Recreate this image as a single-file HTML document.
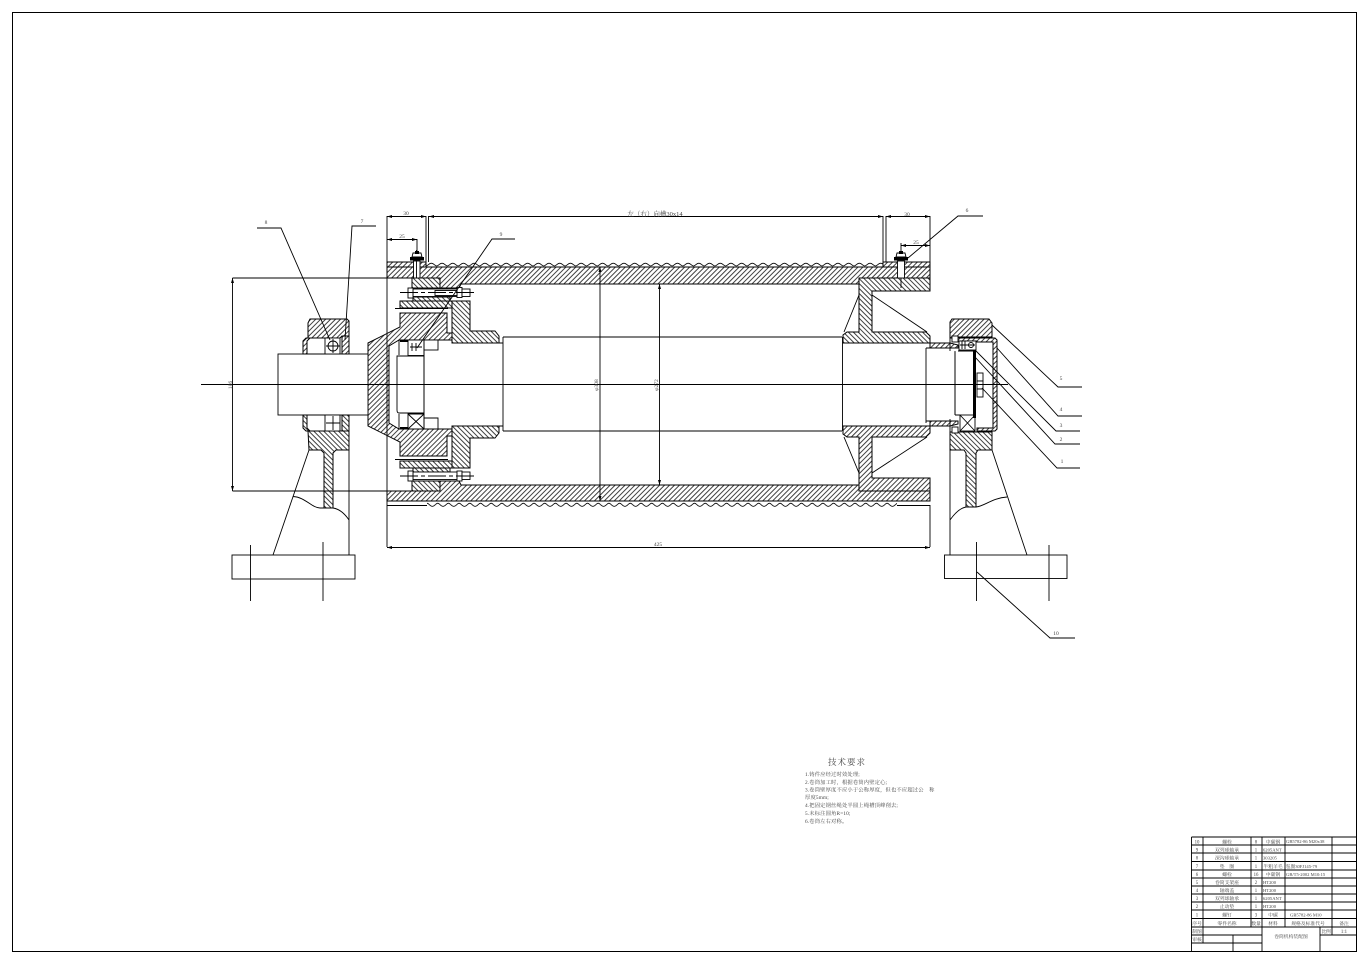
<!DOCTYPE html>
<html><head><meta charset="utf-8"><style>
html,body{margin:0;padding:0;background:#fff}
svg{display:block}
text{font-family:"Liberation Serif","Noto Serif CJK SC",serif;fill:#444}
.h{stroke:#000;stroke-width:1}
.l{fill:none;stroke:#000;stroke-width:.9}
.w{fill:#fff;stroke:#000;stroke-width:.9}
.b{fill:#000;stroke:none}
</style></head><body>
<svg width="1364" height="962" viewBox="0 0 1364 962" xmlns="http://www.w3.org/2000/svg">
<defs>
<pattern id="A" patternUnits="userSpaceOnUse" width="3.5" height="8" patternTransform="rotate(45)"><rect width="3.5" height="8" fill="#fff"/><line x1="1" y1="0" x2="1" y2="8" stroke="#000" stroke-width=".75"/></pattern>
<pattern id="B" patternUnits="userSpaceOnUse" width="3.5" height="8" patternTransform="rotate(-45)"><rect width="3.5" height="8" fill="#fff"/><line x1="1" y1="0" x2="1" y2="8" stroke="#000" stroke-width=".75"/></pattern>
<pattern id="GT" patternUnits="userSpaceOnUse" x="426" y="262" width="10.7" height="6"><path d="M0 4C2 4 2.800 1.200 5.350 1.200S8.700 4 10.700 4" fill="none" stroke="#000" stroke-width=".8"/></pattern>
<pattern id="GB" patternUnits="userSpaceOnUse" x="427" y="502" width="10.7" height="6"><path d="M0 1.200C2 1.200 2.800 4.400 5.350 4.400S8.700 1.200 10.700 1.200" fill="none" stroke="#000" stroke-width=".8"/></pattern>
</defs>
<rect width="1364" height="962" fill="#fff"/>
<rect x="12.5" y="12.5" width="1344" height="939" fill="none" stroke="#000" stroke-width="1"/>

<!-- drum shell -->
<rect x="426" y="262" width="457" height="6" fill="url(#GT)"/>
<rect x="427" y="502" width="470" height="6" fill="url(#GB)"/>
<polygon class="h" fill="url(#A)" points="387,262 426,262 426,267 387,267"/>
<polygon class="h" fill="url(#A)" points="883,262 930,262 930,267 883,267"/>
<polygon class="h" fill="url(#A)" points="387,267 930,267 930,278 859,278 859,284 461,284 459,288 440,288 440,278 387,278"/>
<polygon class="h" fill="url(#A)" points="387,501 930,501 930,491 859,491 859,485 461,485 459,481 440,481 440,491 387,491"/>
<path class="l" d="M387 267H426M883 267H930M387 505.500H427M897 505.500H930"/>

<!-- left flange assembly top -->
<polygon class="h" fill="url(#B)" points="412,278 440,278 440,288 412,288"/>
<polygon class="h" fill="url(#B)" points="413,297 450,297 450,302 413,302"/>
<polygon class="h" fill="url(#B)" points="400,301 452,301 452,308 400,308"/>
<polygon class="h" fill="url(#B)" points="452,301 470,301 470,331 495,331 499,336 499,343 452,343"/>
<polygon class="h" fill="url(#A)" points="368,343 400,327 400,313 447,313 447,333 452,333 452,340 399,340 389,346 389,423 399,429 452,429 452,436 447,436 447,456 400,456 400,442 368,426"/>
<!-- left flange assembly bottom -->
<polygon class="h" fill="url(#B)" points="412,481 440,481 440,491 412,491"/>
<polygon class="h" fill="url(#B)" points="413,467 450,467 450,472 413,472"/>
<polygon class="h" fill="url(#B)" points="400,461 452,461 452,468 400,468"/>
<polygon class="h" fill="url(#B)" points="452,468 470,468 470,438 495,438 499,433 499,426 452,426"/>
<path class="l" d="M395 308.500H448M395 459.500H448"/>
<!-- flange bolts -->
<rect class="w" x="413" y="289" width="47" height="7.500"/><rect class="w" x="408" y="288" width="5" height="10"/><rect class="w" x="457" y="287.500" width="5" height="10"/><rect class="w" x="462" y="289" width="8" height="7.500"/>
<rect class="w" x="435" y="290.500" width="22" height="5"/>
<rect class="w" x="413" y="472" width="47" height="7.500"/><rect class="w" x="408" y="471" width="5" height="10"/><rect class="w" x="457" y="471" width="5" height="10"/><rect class="w" x="462" y="472" width="8" height="7.500"/>
<path class="l" d="M400 292.500H477M400 476H477" stroke-dasharray="18 3 4 3"/>

<!-- left bearing in drum -->
<rect class="w" x="408" y="340" width="16" height="15.500"/><rect class="w" x="424" y="340" width="14" height="10"/>
<path class="l" d="M397 356H424V413H399Q397 413 397 410ZM408 414H424V429H408ZM408 414L424 429M424 414L408 429M424 418H438V429H424"/>
<rect class="b" x="400" y="340" width="8" height="2"/><rect class="b" x="400" y="427" width="8" height="2"/>
<path class="l" d="M410 347H422M412 343V351M416 343V351"/>
<path class="l" d="M399 340V355M399 414V429M424 340V429"/>

<!-- main shaft -->
<path class="l" d="M452 343H503M452 426H503M503 337H842M503 431H842M503 337V431M842.500 337V431"/>
<rect class="w" x="278" y="354" width="90" height="61"/>
<!-- left seat -->
<polygon class="h" fill="url(#A)" points="308,338 308,323 310,319 347,319 349,321 349,336 342,336 340,338"/>
<polygon class="h" fill="url(#B)" points="308,431 349,431 349,450 336,450 333,453 333,508 324,508 324,453 321,450 309,450"/>
<path class="h" fill="url(#A)" d="M303 354V341L306 338H310L307 341V354Z"/>
<path class="h" fill="url(#B)" d="M303 415V428L306 431H310L307 428V415Z"/>
<rect class="w" x="325" y="338" width="15" height="16"/><circle class="l" cx="333" cy="346" r="5"/><path class="l" d="M326 346H340M333 339V353"/>
<rect class="w" x="325" y="415" width="15" height="16"/><path class="l" d="M326 423H340M333 416V430"/>
<polygon class="h" fill="url(#A)" points="342,336 349,336 349,354 342,354"/>
<polygon class="h" fill="url(#B)" points="342,415 349,415 349,431 342,431"/>
<path class="l" d="M306 338H325M306 431H325M307 354H325M307 415H325"/>
<path class="l" d="M349 431V555M309 450L273 555M293 496.500C305 497 312 508 320 508H333C340 509 345 514 349 520"/>
<rect class="w" x="232" y="555" width="123" height="24"/>
<path class="l" d="M250.500 545V601M323 542V601"/>

<!-- right hub -->
<polygon class="h" fill="url(#B)" points="843,343 843,335 847,332 859,332 859,278 930,278 930,291 872,291 872,332 926,332 930,336 930,343"/>
<polygon class="h" fill="url(#A)" points="843,426 843,434 847,437 859,437 859,491 930,491 930,478 872,478 872,437 926,437 930,433 930,426"/>
<path class="l" d="M844 332L859 295M872 295L927 332M844 437L859 473M872 473L927 437"/>
<!-- right end -->
<path class="l" d="M843 343H926M843 426H926M926 348V423M955 351V415"/>
<polygon class="h" fill="url(#A)" points="930,343 950,343 958,345 958,348 930,348"/>
<polygon class="h" fill="url(#A)" points="930,421 958,421 958,424 950,426 930,426"/>
<path class="l" d="M926 348H955M926 421H955M955 415H960"/>
<polygon class="h" fill="url(#A)" points="950,322 952,319 989,319 992,323 992,337 958,337 958,338 950,338"/>
<polygon class="h" fill="url(#B)" points="950,432 992,432 992,450 978,450 976,453 976,507 966,507 966,453 964,450 950,450"/>
<path class="l" d="M950 338V351M950 419V432"/>
<!-- cover -->
<polygon class="h" fill="url(#A)" points="958,338 995,338 997,340 997,429 995,431 977,431 977,428 993,428 993,342 977,342 977,341 958,341"/>
<rect class="w" x="959" y="341" width="17" height="9"/><circle class="l" cx="971" cy="345" r="2.500"/><path class="l" d="M960 345H975M962 341V349M965 341V349"/>
<rect class="w" x="960" y="415" width="15" height="16"/><path class="l" d="M960 415L975 431M975 415L960 431"/>
<rect class="b" x="973" y="350" width="3" height="68"/>
<path class="l" d="M958 351H974M955 352V415"/>
<rect class="w" x="977" y="373" width="6" height="8"/><rect class="w" x="977" y="381" width="6" height="8"/><rect class="w" x="977" y="389" width="6" height="8"/>
<rect class="w" x="952" y="336" width="6" height="6"/><rect class="w" x="952" y="427" width="6" height="6"/>
<path class="l" d="M950 450V555M992 450L1027 555M950 520C955 513 960 508 966 507H976C985 506 992 498 1007 497"/>
<rect class="w" x="944.500" y="555" width="122.500" height="23.500"/>
<path class="l" d="M976.500 542V601M1049 545V601"/>

<!-- surface bolts -->
<rect class="w" x="413.500" y="261" width="6.500" height="17"/><path class="l" d="M416.500 250V278"/>
<rect class="b" x="410" y="257" width="14" height="3.500"/><polygon class="w" points="412,257 413,253 421,253 422,257"/><rect class="b" x="415" y="251" width="4" height="3"/>
<rect class="w" x="897.500" y="261" width="7" height="17"/>
<rect class="b" x="894" y="257" width="14" height="3.500"/><polygon class="w" points="896,257 897,253 905,253 906,257"/><rect class="b" x="899" y="251" width="4" height="3"/>
<path class="l" d="M901 278V288"/>

<!-- center line -->
<path class="l" d="M201 384.500H1008"/>

<!-- dimensions -->
<path class="l" d="M232.500 278V491M232.500 278H387M232.500 491H412M387 216V547M426 216V262M428.500 216V262M883 216V262M886 216V262M930 216V262M930 505V547M387 216.500H426M428.500 216.500H883M886 216.500H930M387 239.500H417M417 239V252M901 245.500H930M901 243V252M387 547.500H930M600 267V501M659.500 284V485"/>
<g class="b">
<polygon points="387,216.500 392,215 392,218"/><polygon points="426,216.500 421,215 421,218"/><polygon points="429,216.500 434,215 434,218"/><polygon points="883,216.500 878,215 878,218"/><polygon points="886,216.500 891,215 891,218"/><polygon points="930,216.500 925,215 925,218"/>
<polygon points="387,239.500 392,238 392,241"/><polygon points="417,239.500 412,238 412,241"/><polygon points="901,245.500 906,244 906,247"/><polygon points="930,245.500 925,244 925,247"/>
<polygon points="232.500,278 231,283 234,283"/><polygon points="232.500,491 231,486 234,486"/>
<polygon points="600,267 598.500,272 601.500,272"/><polygon points="600,501 598.500,496 601.500,496"/><polygon points="659.500,284 658,289 661,289"/><polygon points="659.500,485 658,480 661,480"/>
<polygon points="387,547.500 392,546 392,549"/><polygon points="930,547.500 925,546 925,549"/>
</g>

<!-- leaders -->
<path class="l" d="M257 228H281L330 340M376 226H352L345 340M515 239H492L417 348M983 216H958L908 258M992 325L1058 387H1082M997 348L1058 416H1082M975 350L1056 431H1080M975 357L1055 444H1080M982 388L1057 468H1080M977 572L1050 638H1075"/>

<!-- dim text -->
<g font-size="5.500" text-anchor="middle">
<text x="406" y="215">30</text><text x="402" y="238">25</text><text x="907" y="216">30</text><text x="916" y="244">25</text>
<text x="655" y="216" font-size="6.500">左（右）向槽30x14</text>
<text x="658" y="546">425</text>
<text x="266" y="224">8</text><text x="362" y="223">7</text><text x="501" y="236">9</text><text x="967" y="212">6</text>
<text x="1061" y="380">5</text><text x="1061" y="411">4</text><text x="1061" y="427">3</text><text x="1061" y="441">2</text><text x="1062" y="463">1</text><text x="1056" y="635">10</text>
<text transform="translate(232,385) rotate(-90)">186</text>
<text transform="translate(598,385) rotate(-90)">φ308</text>
<text transform="translate(658,385) rotate(-90)">φ272</text>
</g>

<!-- tech requirements -->
<text x="828" y="765" font-size="8.500" letter-spacing="1">技术要求</text>
<g font-size="5.300" letter-spacing=".15">
<text x="805" y="776">1.铸件应经过时效处理;</text>
<text x="805" y="784">2.卷筒加工时，根据卷筒内壁定心;</text>
<text x="805" y="791.500">3.卷筒壁厚度不应小于公称厚度，但也不应超过公　称</text>
<text x="805" y="799">厚度5mm;</text>
<text x="805" y="807">4.把固定钢丝绳处半圆上绳槽顶峰削去;</text>
<text x="805" y="815">5.未标注圆角R=10;</text>
<text x="805" y="823">6.卷筒左右对称。</text>
</g>

<!-- parts table -->
<path d="M1191.500 837H1356M1191.500 845H1356M1191.500 853H1356M1191.500 861.500H1356M1191.500 870H1356M1191.500 878H1356M1191.500 886H1356M1191.500 894H1356M1191.500 902H1356M1191.500 910H1356M1191.500 918.500H1356M1191.500 927H1356M1191.500 935H1262M1320 935H1356M1191.500 943H1262M1191.500 837V951M1203 837V943M1251 837V927M1262 837V951M1285 837V927M1332 837V935M1233 935V951M1320 927V951" fill="none" stroke="#000" stroke-width=".9"/>
<g font-size="4.800" text-anchor="middle">
<text x="1197" y="843.500">10</text><text x="1227" y="843.500">螺栓</text><text x="1256" y="843.500">8</text><text x="1273" y="843.500">中碳钢</text>
<text x="1197" y="851.500">9</text><text x="1227" y="851.500">双列球轴承</text><text x="1256" y="851.500">1</text>
<text x="1197" y="859.500">8</text><text x="1227" y="859.500">深沟球轴承</text><text x="1256" y="859.500">1</text>
<text x="1197" y="868">7</text><text x="1227" y="868">垫　圈</text><text x="1256" y="868">1</text><text x="1273" y="868">半粗羊毛</text>
<text x="1197" y="876">6</text><text x="1227" y="876">螺栓</text><text x="1256" y="876">16</text><text x="1273" y="876">中碳钢</text>
<text x="1197" y="884">5</text><text x="1227" y="884">卷筒支架座</text><text x="1256" y="884">2</text>
<text x="1197" y="892">4</text><text x="1227" y="892">轴端盖</text><text x="1256" y="892">1</text>
<text x="1197" y="900">3</text><text x="1227" y="900">双列球轴承</text><text x="1256" y="900">1</text>
<text x="1197" y="908">2</text><text x="1227" y="908">止动垫</text><text x="1256" y="908">1</text>
<text x="1197" y="916.500">1</text><text x="1227" y="916.500">螺钉</text><text x="1256" y="916.500">3</text><text x="1273" y="916.500">中碳</text>
<text x="1197" y="925">序号</text><text x="1227" y="925">零件名称</text><text x="1256" y="925">数量</text><text x="1273" y="925">材料</text><text x="1308" y="925">规格及标准代号</text><text x="1344" y="925">备注</text>
<text x="1197" y="933">制图</text><text x="1197" y="941">审核</text>
<text x="1326" y="933">比例</text><text x="1344" y="933">1:1</text>
<text x="1291" y="938">卷筒机构装配图</text>
</g>
<g font-size="4.600">
<text x="1286" y="843">GB5782-86 M20x38</text>
<text x="1263" y="851.500">6205ANT</text>
<text x="1263" y="859.500">303205</text>
<text x="1286" y="868">毡圈30FJ145-79</text>
<text x="1286" y="876">GB/T5-2002 M10:15</text>
<text x="1263" y="884">HT200</text>
<text x="1263" y="892">HT200</text>
<text x="1263" y="900">6205ANT</text>
<text x="1263" y="908">HT200</text>
<text x="1290" y="916.500">GB5782-86 M10</text>
</g>
</svg>
</body></html>
